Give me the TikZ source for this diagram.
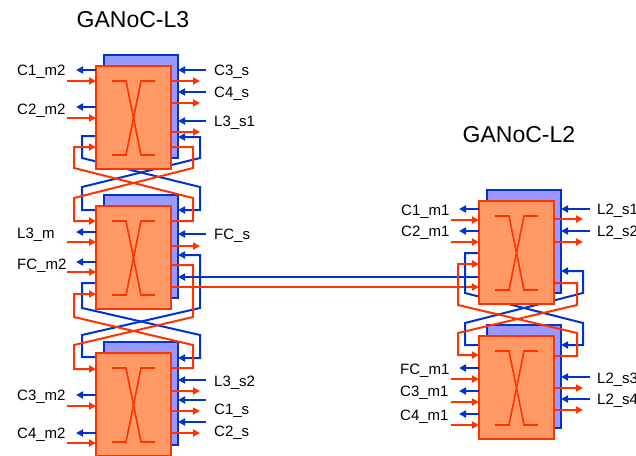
\documentclass[tikz,border=0pt]{standalone}
\usepackage{fontspec}
\setmainfont{Liberation Sans}
\usetikzlibrary{arrows.meta}
\definecolor{nblue}{HTML}{0033CC}
\definecolor{nred}{HTML}{FF3300}
\definecolor{nfill}{HTML}{FF9966}
\definecolor{bfill}{HTML}{9999FF}
\tikzset{
  wire/.style={line width=2pt},
  bw/.style={wire, draw=nblue},
  rw/.style={wire, draw=nred},
  tipped/.style={-{Triangle[length=7pt,width=7pt]}},
  backbox/.style={draw=nblue, fill=bfill, line width=2pt},
  frontbox/.style={draw=nred, fill=nfill, line width=2pt, inner sep=0pt, outer sep=0pt,
     minimum width=75pt, minimum height=103pt, anchor=north west},
  xsym/.style={draw=nred, line width=1.6pt},
  lbl/.style={font=\fontsize{15}{15}\selectfont, inner sep=0pt},
  ttl/.style={font=\fontsize{23}{23}\selectfont, inner sep=0pt, anchor=base west},
}
% back box of a router, (x,y) = top-left of the orange box
\newcommand{\rback}[2]{\draw[backbox] (#1+8,#2-11) rectangle (#1+82,#2+92);}
% front box with crossbar symbol
\newcommand{\rfront}[3]{%
  \node[frontbox] (#1) at (#2,#3) {};
  \draw[xsym] (#2+16,#3+15) -- (#2+30,#3+15) -- (#2+45,#3+89) -- (#2+59,#3+89);
  \draw[xsym] (#2+59,#3+15) -- (#2+45,#3+15) -- (#2+30,#3+89) -- (#2+16,#3+89);}
% master port on the left side: #1 box left x, #2 blue y, #3 red y, #4 blue tip x, #5 red start x
\newcommand{\mport}[5]{%
  \draw[bw,tipped] (#1,#2) -- (#4,#2);
  \draw[rw,tipped] (#5,#3) -- (#1,#3);}
% slave port on the right side: #1 orange right x, #2 back right x, #3 blue y, #4 red y, #5 blue start x, #6 red tip x
\newcommand{\sport}[6]{%
  \draw[bw,tipped] (#5,#3) -- (#2,#3);
  \draw[rw,tipped] (#1,#4) -- (#6,#4);}
\newcommand{\lblW}[4]{\node[lbl, anchor=base west] (#1) at (#2,#3+5.4) {#4};}
\begin{document}
\begin{tikzpicture}[x=1pt,y=-1pt]
\useasboundingbox (0,0) rectangle (636,455);
\clip (0,0) rectangle (636,455);
\fill[white] (0,0) rectangle (636,455);

% titles
\node[ttl] (t3) at (76.5,27) {GANoC-L3};
\node[ttl] (t2) at (462.5,142) {GANoC-L2};

% back boxes
\rback{96}{66}
\rback{96}{206}
\rback{96}{353}
\rback{479}{201}
\rback{479}{336}

% loops, left column: top <-> middle
\draw[bw,tipped] (96,136) -- (82,136) -- (82,158) -- (200,187) -- (200,210) -- (178,210);
\draw[bw,tipped] (96,210) -- (82,210) -- (82,187) -- (200,158) -- (200,137) -- (178,137);
\draw[rw,tipped] (171,147) -- (193,147) -- (193,168) -- (74,198) -- (74,221) -- (96,221);
\draw[rw,tipped] (171,221) -- (193,221) -- (193,198) -- (74,168) -- (74,147) -- (96,147);
% loops, left column: middle <-> bottom
\draw[bw,tipped] (96,283) -- (82,283) -- (82,308) -- (200,335) -- (200,358) -- (178,358);
\draw[bw,tipped] (96,357) -- (82,357) -- (82,335) -- (200,308) -- (200,255) -- (178,255);
\draw[rw,tipped] (171,265) -- (193,265) -- (193,317) -- (74,345) -- (74,369) -- (96,369);
\draw[rw,tipped] (171,368) -- (193,368) -- (193,345) -- (74,317) -- (74,294) -- (96,294);
% long links L3 <-> L2
\draw[bw,tipped] (479,277) -- (178,277);
\draw[rw,tipped] (171,287) -- (479,287);
% loops, right column
\draw[bw,tipped] (479,253) -- (465,253) -- (465,293) -- (583,323) -- (583,345) -- (561,345);
\draw[bw,tipped] (479,345) -- (465,345) -- (465,323) -- (583,293) -- (583,271) -- (561,271);
\draw[rw,tipped] (554,283) -- (577,283) -- (577,305) -- (458,333) -- (458,355) -- (479,355);
\draw[rw,tipped] (554,356) -- (577,356) -- (577,333) -- (458,305) -- (458,264) -- (479,264);

% front boxes
\rfront{r31}{96}{66}
\rfront{r32}{96}{206}
\rfront{r33}{96}{353}
\rfront{r21}{479}{201}
\rfront{r22}{479}{336}

% ports, GANoC-L3 top router
\mport{96}{70}{81}{76}{67}
\mport{96}{107}{118}{76}{67}
\sport{171}{178}{70}{81}{206}{200}
\sport{171}{178}{92}{103}{206}{200}
\sport{171}{178}{121}{132}{206}{200}
% middle router
\mport{96}{232}{242}{76}{67}
\mport{96}{262}{272}{76}{67}
\sport{171}{178}{234}{246}{206}{200}
% bottom router
\mport{96}{395}{406}{76}{67}
\mport{96}{433}{443}{76}{67}
\sport{171}{178}{380}{391}{206}{200}
\sport{171}{178}{400}{411}{206}{200}
\sport{171}{178}{422}{433}{206}{200}
% GANoC-L2 top router
\mport{479}{209}{220}{459}{451}
\mport{479}{231}{242}{459}{451}
\sport{554}{561}{209}{219}{590}{583}
\sport{554}{561}{231}{242}{590}{583}
% GANoC-L2 bottom router
\mport{479}{368}{379}{459}{451}
\mport{479}{391}{402}{459}{451}
\mport{479}{414}{425}{459}{451}
\sport{554}{561}{377}{388}{590}{583}
\sport{554}{561}{399}{410}{590}{583}

% labels
\lblW{a1}{17}{70}{C1\_m2}
\lblW{a2}{17}{109}{C2\_m2}
\lblW{a3}{17}{233}{L3\_m}
\lblW{a4}{17}{264}{FC\_m2}
\lblW{a5}{17}{395}{C3\_m2}
\lblW{a6}{17}{433}{C4\_m2}
\lblW{b1}{214}{70}{C3\_s}
\lblW{b2}{214}{92}{C4\_s}
\lblW{b3}{214}{121}{L3\_s1}
\lblW{b4}{214}{234}{FC\_s}
\lblW{b5}{214}{381}{L3\_s2}
\lblW{b6}{214}{409}{C1\_s}
\lblW{b7}{214}{431}{C2\_s}
\lblW{c1}{401}{210}{C1\_m1}
\lblW{c2}{401}{231}{C2\_m1}
\lblW{c3}{400}{369}{FC\_m1}
\lblW{c4}{400}{391}{C3\_m1}
\lblW{c5}{400}{415}{C4\_m1}
\lblW{d1}{597}{209}{L2\_s1}
\lblW{d2}{597}{231}{L2\_s2}
\lblW{d3}{597}{378}{L2\_s3}
\lblW{d4}{597}{399}{L2\_s4}
\end{tikzpicture}
\end{document}
